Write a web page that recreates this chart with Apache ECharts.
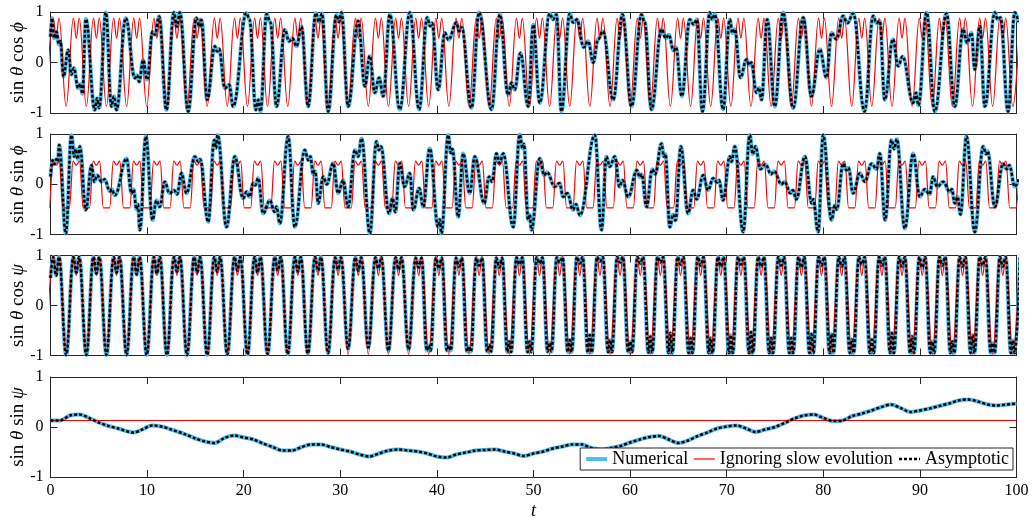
<!DOCTYPE html>
<html><head><meta charset="utf-8">
<script src="https://cdn.jsdelivr.net/npm/echarts@6/dist/echarts.min.js"></script>
<style>html,body{margin:0;padding:0;background:#fff}#c{width:1036px;height:520px}</style>
</head><body><div id="c"></div><script>
const tRange = [0, 100];
const tStep = 10;
const yTicks = [-1, 0, 1];
const legendNames = ['Numerical', 'Ignoring slow evolution', 'Asymptotic'];
const panelLabels = [['sin ', 'θ', ' cos ', 'ϕ'], ['sin ', 'θ', ' sin ', 'ϕ'], ['sin ', 'θ', ' cos ', 'ψ'], ['sin ', 'θ', ' sin ', 'ψ']];

// "Ignoring slow evolution" curves, panels 1 and 3 (shared time samples)
const redT = [-0.46,
0.28,0.58,0.88,1.62, 2.37,2.67,2.97,3.71, 4.45,4.75,5.05,5.79, 6.54,6.84,7.14,7.88,
8.62,8.92,9.22,9.96, 10.71,11.01,11.31,12.05, 12.79,13.09,13.39,14.13, 14.88,15.18,15.48,16.22,
16.96,17.26,17.56,18.30, 19.05,19.35,19.65,20.39, 21.13,21.43,21.73,22.47, 23.22,23.52,23.82,24.56,
25.30,25.60,25.90,26.64, 27.39,27.69,27.99,28.73, 29.47,29.77,30.07,30.81, 31.56,31.86,32.16,32.90,
33.64,33.94,34.24,34.98, 35.73,36.03,36.33,37.07, 37.81,38.11,38.41,39.15, 39.90,40.20,40.50,41.24,
41.98,42.28,42.58,43.32, 44.07,44.37,44.67,45.41, 46.15,46.45,46.75,47.49, 48.24,48.54,48.84,49.58,
50.32,50.62,50.92,51.66, 52.41,52.71,53.01,53.75, 54.49,54.79,55.09,55.83, 56.58,56.88,57.18,57.92,
58.66,58.96,59.26,60.00, 60.75,61.05,61.35,62.09, 62.83,63.13,63.43,64.17, 64.92,65.22,65.52,66.26,
67.00,67.30,67.60,68.34, 69.09,69.39,69.69,70.43, 71.17,71.47,71.77,72.51, 73.26,73.56,73.86,74.60,
75.34,75.64,75.94,76.68, 77.43,77.73,78.03,78.77, 79.51,79.81,80.11,80.85, 81.60,81.90,82.20,82.94,
83.68,83.98,84.28,85.02, 85.77,86.07,86.37,87.11, 87.85,88.15,88.45,89.19, 89.94,90.24,90.54,91.28,
92.02,92.32,92.62,93.36, 94.11,94.41,94.71,95.45, 96.19,96.49,96.79,97.53, 98.28,98.58,98.88,99.62,
100.36];
const red1Y = [-0.87,
.88,.48,.88,-.87, .88,.48,.88,-.87, .88,.48,.88,-.87, .88,.48,.88,-.87,
.88,.48,.88,-.87, .88,.48,.88,-.87, .88,.48,.88,-.87, .88,.48,.88,-.87,
.88,.48,.88,-.87, .88,.48,.88,-.87, .88,.48,.88,-.87, .88,.48,.88,-.87,
.88,.48,.88,-.87, .88,.48,.88,-.87, .88,.48,.88,-.87, .88,.48,.88,-.87,
.88,.48,.88,-.87, .88,.48,.88,-.87, .88,.48,.88,-.87, .88,.48,.88,-.87,
.88,.48,.88,-.87, .88,.48,.88,-.87, .88,.48,.88,-.87, .88,.48,.88,-.87,
.88,.48,.88,-.87, .88,.48,.88,-.87, .88,.48,.88,-.87, .88,.48,.88,-.87,
.88,.48,.88,-.87, .88,.48,.88,-.87, .88,.48,.88,-.87, .88,.48,.88,-.87,
.88,.48,.88,-.87, .88,.48,.88,-.87, .88,.48,.88,-.87, .88,.48,.88,-.87,
.88,.48,.88,-.87, .88,.48,.88,-.87, .88,.48,.88,-.87, .88,.48,.88,-.87,
.88,.48,.88,-.87, .88,.48,.88,-.87, .88,.48,.88,-.87, .88,.48,.88,-.87,
.88,.48,.88,-.87, .88,.48,.88,-.87, .88,.48,.88,-.87, .88,.48,.88,-.87,
.88];
const red3Y = [-0.98,
.98,.6,.98,-.98, .98,.6,.98,-.98, .98,.6,.98,-.98, .98,.6,.98,-.98,
.98,.6,.98,-.98, .98,.6,.98,-.98, .98,.6,.98,-.98, .98,.6,.98,-.98,
.98,.6,.98,-.98, .98,.6,.98,-.98, .98,.6,.98,-.98, .98,.6,.98,-.98,
.98,.6,.98,-.98, .98,.6,.98,-.98, .98,.6,.98,-.98, .98,.6,.98,-.98,
.98,.6,.98,-.98, .98,.6,.98,-.98, .98,.6,.98,-.98, .98,.6,.98,-.98,
.98,.6,.98,-.98, .98,.6,.98,-.98, .98,.6,.98,-.98, .98,.6,.98,-.98,
.98,.6,.98,-.98, .98,.6,.98,-.98, .98,.6,.98,-.98, .98,.6,.98,-.98,
.98,.6,.98,-.98, .98,.6,.98,-.98, .98,.6,.98,-.98, .98,.6,.98,-.98,
.98,.6,.98,-.98, .98,.6,.98,-.98, .98,.6,.98,-.98, .98,.6,.98,-.98,
.98,.6,.98,-.98, .98,.6,.98,-.98, .98,.6,.98,-.98, .98,.6,.98,-.98,
.98,.6,.98,-.98, .98,.6,.98,-.98, .98,.6,.98,-.98, .98,.6,.98,-.98,
.98,.6,.98,-.98, .98,.6,.98,-.98, .98,.6,.98,-.98, .98,.6,.98,-.98,
.98];

// panel 2 red curve
const red2T = [-0.79,-0.14,
0.25,0.58,0.91,1.30,1.95, 2.34,2.67,3.00,3.39,4.04, 4.42,4.75,5.08,5.47,6.12, 6.51,6.84,7.17,7.56,8.21,
8.59,8.92,9.25,9.64,10.29, 10.68,11.01,11.34,11.73,12.38, 12.76,13.09,13.42,13.81,14.46, 14.85,15.18,15.51,15.90,16.55,
16.93,17.26,17.59,17.98,18.63, 19.02,19.35,19.68,20.07,20.72, 21.10,21.43,21.76,22.15,22.80, 23.19,23.52,23.85,24.24,24.89,
25.27,25.60,25.93,26.32,26.97, 27.36,27.69,28.02,28.41,29.06, 29.44,29.77,30.10,30.49,31.14, 31.53,31.86,32.19,32.58,33.23,
33.61,33.94,34.27,34.66,35.31, 35.70,36.03,36.36,36.75,37.40, 37.78,38.11,38.44,38.83,39.48, 39.87,40.20,40.53,40.92,41.57,
41.95,42.28,42.61,43.00,43.65, 44.04,44.37,44.70,45.09,45.74, 46.12,46.45,46.78,47.17,47.82, 48.21,48.54,48.87,49.26,49.91,
50.29,50.62,50.95,51.34,51.99, 52.38,52.71,53.04,53.43,54.08, 54.46,54.79,55.12,55.51,56.16, 56.55,56.88,57.21,57.60,58.25,
58.63,58.96,59.29,59.68,60.33, 60.72,61.05,61.38,61.77,62.42, 62.80,63.13,63.46,63.85,64.50, 64.89,65.22,65.55,65.94,66.59,
66.97,67.30,67.63,68.02,68.67, 69.06,69.39,69.72,70.11,70.76, 71.14,71.47,71.80,72.19,72.84, 73.23,73.56,73.89,74.28,74.93,
75.31,75.64,75.97,76.36,77.01, 77.40,77.73,78.06,78.45,79.10, 79.48,79.81,80.14,80.53,81.18, 81.57,81.90,82.23,82.62,83.27,
83.65,83.98,84.31,84.70,85.35, 85.74,86.07,86.40,86.79,87.44, 87.82,88.15,88.48,88.87,89.52, 89.91,90.24,90.57,90.96,91.61,
91.99,92.32,92.65,93.04,93.69, 94.08,94.41,94.74,95.13,95.78, 96.16,96.49,96.82,97.21,97.86, 98.25,98.58,98.91,99.30,99.95,
100.33];
const red2Y = [-0.47,-0.47,
.46,.38,.46,-.47,-.47, .46,.38,.46,-.47,-.47, .46,.38,.46,-.47,-.47, .46,.38,.46,-.47,-.47,
.46,.38,.46,-.47,-.47, .46,.38,.46,-.47,-.47, .46,.38,.46,-.47,-.47, .46,.38,.46,-.47,-.47,
.46,.38,.46,-.47,-.47, .46,.38,.46,-.47,-.47, .46,.38,.46,-.47,-.47, .46,.38,.46,-.47,-.47,
.46,.38,.46,-.47,-.47, .46,.38,.46,-.47,-.47, .46,.38,.46,-.47,-.47, .46,.38,.46,-.47,-.47,
.46,.38,.46,-.47,-.47, .46,.38,.46,-.47,-.47, .46,.38,.46,-.47,-.47, .46,.38,.46,-.47,-.47,
.46,.38,.46,-.47,-.47, .46,.38,.46,-.47,-.47, .46,.38,.46,-.47,-.47, .46,.38,.46,-.47,-.47,
.46,.38,.46,-.47,-.47, .46,.38,.46,-.47,-.47, .46,.38,.46,-.47,-.47, .46,.38,.46,-.47,-.47,
.46,.38,.46,-.47,-.47, .46,.38,.46,-.47,-.47, .46,.38,.46,-.47,-.47, .46,.38,.46,-.47,-.47,
.46,.38,.46,-.47,-.47, .46,.38,.46,-.47,-.47, .46,.38,.46,-.47,-.47, .46,.38,.46,-.47,-.47,
.46,.38,.46,-.47,-.47, .46,.38,.46,-.47,-.47, .46,.38,.46,-.47,-.47, .46,.38,.46,-.47,-.47,
.46,.38,.46,-.47,-.47, .46,.38,.46,-.47,-.47, .46,.38,.46,-.47,-.47, .46,.38,.46,-.47,-.47,
.46,.38,.46,-.47,-.47, .46,.38,.46,-.47,-.47, .46,.38,.46,-.47,-.47, .46,.38,.46,-.47,-.47,
.46];
const red4 = [[0, 0.13], [100, 0.13]];

// Numerical (Asymptotic coincides with it at this scale)
const num1 = [[0,.51],[.14,.88],[.38,.48],[.62,.61],[.86,.36],[1.02,.42],[1.35,-.28],[1.83,.25],[2.17,-.24],[2.42,-.11],[2.86,-.51],[3.1,-.42],[3.3,-.62],[3.66,.86],[4.59,-.94],[4.83,-.71],[5.04,-.9],[5.73,.99],[6.31,-.87],[6.56,-.67],[6.83,-.94],[7.8,.88],[8.73,-.31],[8.95,-.25],[9.18,-.38],[9.59,.05],[10,-.34],[10.56,.61],[10.8,.55],[11.25,.91],[12,-.94],[12.77,.99],[13.08,.71],[13.39,.99],[14.25,-.97],[15.11,.88],[15.39,.71],[15.63,.84],[16.22,-.74],[17.01,.32],[17.25,.22],[17.45,.27],[18.05,-.51],[18.5,-.44],[18.91,-.87],[20.29,.98],[20.6,.85],[21.26,-.94],[21.5,-.74],[21.74,-.97],[22.36,.96],[22.75,.8],[23.4,-.87],[24.26,.65],[24.7,.42],[25.05,.48],[25.47,.32],[25.98,.71],[26.67,-.87],[27.47,.98],[27.8,.8],[28.1,.97],[28.74,-.97],[29.6,.94],[29.85,.8],[30.12,.99],[30.81,-.87],[31.85,.82],[32.55,-.47],[33.05,.13],[33.57,-.6],[34.02,-.3],[34.44,-.67],[35.13,.95],[36.16,-.93],[37.2,.99],[38.16,-.93],[39,.89],[39.3,.72],[39.5,.78],[40.13,-.54],[40.82,.59],[41.2,.45],[42.03,.79],[42.3,.62],[42.55,.7],[43.58,-.9],[44.37,.99],[45.65,-.93],[46.51,.95],[47.37,-.64],[47.72,-.4],[48.06,-.54],[48.65,.19],[49.45,-.87],[49.97,.75],[50.65,-.8],[51.68,.97],[52.03,.85],[52.38,.95],[52.89,-.97],[53.76,.97],[54.1,.79],[54.5,.85],[55.2,.3],[55.66,.42],[56.18,0],[56.69,.46],[57.2,.62],[58.24,-.74],[59.21,.95],[60.15,-.87],[61.18,.95],[61.5,.8],[62.21,-.93],[63.25,.66],[63.7,.48],[64,.55],[64.5,.24],[64.75,.3],[65.35,-.67],[66.18,.85],[66.6,.75],[66.9,.85],[67.49,-.97],[68.25,.99],[68.5,.85],[68.77,.95],[69.63,-.93],[70.32,.85],[70.6,.58],[70.84,.66],[71.42,-.3],[72.05,.06],[72.35,-.05],[72.55,0],[73.08,-.6],[73.35,-.5],[73.6,-.74],[74.19,.85],[74.98,-.87],[75.84,.99],[76.88,-.9],[77.92,.89],[78.77,-.67],[79.64,.26],[80.33,-.3],[80.85,.59],[81.36,.46],[82.05,.92],[82.5,.78],[83.09,.97],[84.27,-.97],[85.16,.92],[85.5,.78],[85.85,.82],[86.36,-.74],[87.21,.46],[87.75,-.07],[88.2,.12],[89.3,-.8],[89.6,-.6],[89.85,-.85],[90.69,.99],[91.55,-.97],[92.75,.97],[93.61,-.87],[94.48,.66],[94.89,.39],[95.34,.59],[95.68,-.14],[96.2,.72],[96.72,-.87],[97.76,.99],[98.05,.85],[98.34,.89],[99.13,-.97],[99.82,.99],[100.2,.8]];

const num2 = [[0,.15],[.2,.48],[.4,.4],[.6,.5],[.75,.45],[.9,.78],[1.59,-.98],[2.17,.98],[2.45,.55],[2.6,.7],[2.8,.5],[3.04,.75],[3.66,-.51],[4.24,.38],[4.55,.05],[4.83,.18],[5.28,.05],[5.6,.1],[6.14,-.14],[6.35,-.1],[6.66,-.22],[7.87,.51],[8.39,-.18],[8.6,-.1],[8.9,-.5],[9.05,-.4],[9.25,-.91],[9.87,.95],[10.56,-.71],[10.97,-.32],[11.3,-.45],[11.84,.05],[12.3,-.18],[12.8,-.12],[13.1,-.2],[13.56,.22],[14.08,-.18],[14.94,.55],[15.3,.45],[15.5,.5],[16.32,-.75],[16.95,.88],[17.12,.72],[17.3,.98],[18.22,-.85],[19.08,.55],[19.94,-.28],[20.3,-.15],[20.6,-.25],[20.98,.02],[21.2,-.02],[21.5,.12],[22.01,-.58],[22.71,-.32],[23.2,-.55],[23.4,-.45],[23.74,-.78],[24.6,.95],[25.29,-.85],[26.33,.68],[26.68,.48],[26.9,.55],[27.2,.2],[27.4,.26],[27.71,-.38],[28.23,.15],[28.6,0],[29.26,.42],[29.78,-.18],[30.29,.08],[30.81,-.45],[31.51,.68],[31.85,.55],[32.2,.91],[33.06,-.98],[33.74,.85],[34,.68],[34.2,.75],[35.05,-.58],[35.4,-.28],[35.7,-.55],[36.16,.42],[36.65,-.05],[37.2,.22],[37.55,-.51],[38.17,-.08],[38.58,-.45],[39.26,.71],[40.13,-.85],[40.3,-.7],[40.47,-.98],[41.17,.98],[41.45,.62],[41.6,.7],[42.2,-.65],[42.72,.61],[43.4,-.18],[43.92,.55],[44.9,-.38],[45.4,.15],[45.7,.05],[46.17,.61],[46.5,.42],[46.86,.61],[47.9,-.85],[48.58,.99],[48.85,.72],[49,.8],[49.45,-.71],[49.6,-.6],[49.79,-.91],[50.65,.51],[51.1,.18],[51.4,.24],[52.2,-.05],[52.7,.02],[53.07,-.25],[53.5,-.18],[54.11,-.51],[54.4,-.4],[54.8,-.62],[56.35,.98],[57.04,-.91],[57.55,.55],[57.9,.35],[58.42,.55],[58.9,-.05],[59.2,.08],[59.81,-.25],[60.7,.28],[61,.14],[61.2,.2],[61.7,-.45],[62.3,.3],[62.6,.2],[63.25,.81],[63.5,.55],[63.65,.6],[64.11,-.85],[64.45,-.6],[64.7,-.72],[65.25,.75],[66,-.58],[66.52,-.12],[66.9,-.3],[67.56,.18],[68.07,-.12],[68.59,.12],[69,.04],[69.2,.08],[69.63,-.32],[70.32,.55],[70.5,.45],[70.84,.75],[71.7,-.95],[72.39,.98],[72.7,.6],[72.97,.75],[73.5,.3],[74,.4],[74.6,.2],[74.9,.26],[75.67,0],[76,.05],[76.6,-.18],[76.85,-.12],[77.2,-.3],[78.1,.55],[78.8,-.38],[78.95,-.3],[79.47,-.95],[79.98,.98],[80.85,-.71],[81.2,-.42],[81.4,-.5],[82.05,.41],[82.4,.28],[82.6,.33],[83.09,-.18],[83.79,.22],[84.3,.05],[85,.41],[85.5,.3],[85.85,.61],[86.4,-.71],[87.06,.88],[87.35,.7],[87.6,.9],[88.44,-.88],[89.3,.61],[89.99,-.25],[90.5,-.1],[91,-.2],[91.37,.15],[91.8,-.05],[92.4,.05],[93.1,-.15],[93.3,-.1],[93.61,-.38],[93.9,-.25],[94.2,-.6],[94.82,.95],[95.68,-.95],[96.55,.75],[96.85,.6],[97,.66],[97.76,-.45],[98.61,.41],[99,.3],[99.25,.38],[99.83,-.05],[100.2,.1]];

const num3 = [[0,.55],
[0.28,.97],[0.58,.6],[0.88,.97],[1.62,-.99],[2.37,.97],[2.67,.66],[2.97,.97],[3.71,-.99],
[4.45,.97],[4.75,.64],[5.05,.97],[5.79,-.99],[6.54,.97],[6.84,.66],[7.14,.97],[7.88,-.99],
[8.62,.97],[8.92,.62],[9.22,.97],[9.96,-.99],[10.71,.97],[11.01,.64],[11.31,.97],[12.05,-.99],
[12.79,.97],[13.09,.68],[13.39,.97],[14.13,-.99],[14.88,.97],[15.18,.66],[15.48,.97],[16.22,-.99],
[16.96,.97],[17.26,.68],[17.56,.97],[18.30,-.98],[19.05,.97],[19.35,.7],[19.65,.97],[20.39,-.98],
[21.13,.97],[21.43,.66],[21.73,.97],[22.47,-.97],[23.22,.97],[23.52,.7],[23.82,.97],[24.56,-.97],
[25.30,.97],[25.60,.68],[25.90,.97],[26.64,-.96],[27.39,.97],[27.69,.7],[27.99,.97],[28.73,-.95],
[29.47,.96],[29.77,.72],[30.07,.96],[30.81,-.86],[31.56,.96],[31.86,.7],[32.16,.96],[32.90,-.84],
[33.64,.96],[33.94,.74],[34.24,.96],[34.98,-.9],[35.73,.96],[36.03,.72],[36.33,.96],[37.07,-.88],
[37.81,.95],[38.11,.76],[38.41,.95],[38.95,-.9],[39.15,-.8],[39.35,-.9],
[39.90,.95],[40.20,.74],[40.50,.95],[41.04,-.9],[41.24,-.8],[41.44,-.9],
[41.98,.95],[42.28,.78],[42.58,.95],[43.12,-.92],[43.32,-.82],[43.52,-.92],
[44.07,.95],[44.37,.8],[44.67,.95],[45.21,-.92],[45.41,-.79],[45.61,-.92],
[46.15,.95],[46.45,.76],[46.75,.95],[47.29,-.93],[47.49,-.72],[47.69,-.93],
[48.24,.96],[48.54,.82],[48.84,.96],[49.38,-.93],[49.58,-.72],[49.78,-.93],
[50.32,.96],[50.62,.84],[50.92,.96],[51.46,-.92],[51.66,-.75],[51.86,-.92],
[52.41,.96],[52.71,.86],[53.01,.96],[53.55,-.93],[53.75,-.69],[53.95,-.93],
[54.49,.97],[54.79,.84],[55.09,.97],[55.63,-.94],[55.83,-.59],[56.03,-.94],
[56.58,.97],[56.88,.88],[57.18,.97],[57.72,-.93],[57.92,-.69],[58.12,-.93],
[58.66,.97],[58.96,.86],[59.26,.97],[59.80,-.93],[60.00,-.72],[60.20,-.93],
[60.75,.97],[61.05,.84],[61.35,.97],[61.89,-.94],[62.09,-.62],[62.29,-.94],
[62.83,.97],[63.13,.86],[63.43,.97],[63.97,-.95],[64.17,-.55],[64.37,-.95],
[64.92,.97],[65.22,.82],[65.52,.97],[66.06,-.95],[66.26,-.65],[66.46,-.95],
[67.00,.97],[67.30,.8],[67.60,.97],[68.14,-.95],[68.34,-.65],[68.54,-.95],
[69.09,.97],[69.39,.78],[69.69,.97],[70.23,-.95],[70.43,-.59],[70.63,-.95],
[71.17,.97],[71.47,.82],[71.77,.97],[72.31,-.95],[72.51,-.53],[72.71,-.95],
[73.26,.97],[73.56,.78],[73.86,.97],[74.40,-.95],[74.60,-.65],[74.80,-.95],
[75.34,.97],[75.64,.8],[75.94,.97],[76.48,-.95],[76.68,-.65],[76.88,-.95],
[77.43,.97],[77.73,.76],[78.03,.97],[78.57,-.95],[78.77,-.57],[78.97,-.95],
[79.51,.97],[79.81,.8],[80.11,.97],[80.65,-.95],[80.85,-.57],[81.05,-.95],
[81.60,.97],[81.90,.78],[82.20,.97],[82.74,-.95],[82.94,-.68],[83.14,-.95],
[83.68,.97],[83.98,.82],[84.28,.97],[84.82,-.95],[85.02,-.68],[85.22,-.95],
[85.77,.97],[86.07,.8],[86.37,.97],[86.91,-.95],[87.11,-.55],[87.31,-.95],
[87.85,.97],[88.15,.78],[88.45,.97],[88.99,-.95],[89.19,-.62],[89.39,-.95],
[89.94,.97],[90.24,.76],[90.54,.97],[91.08,-.95],[91.28,-.72],[91.48,-.95],
[92.02,.97],[92.32,.8],[92.62,.97],[93.16,-.95],[93.36,-.72],[93.56,-.95],
[94.11,.97],[94.41,.78],[94.71,.97],[95.25,-.95],[95.45,-.59],[95.65,-.95],
[96.19,.97],[96.49,.8],[96.79,.97],[97.33,-.95],[97.53,-.75],[97.73,-.95],
[98.28,.97],[98.58,.78],[98.88,.97],[99.42,-.95],[99.62,-.7],[99.82,-.95],
[100.36,.97]];

const num4 = [[0,.13],[1,.13],[2,.23],[3,.25],[4,.18],[5,.09],[6,.02],[7,-.03],[8,-.09],[8.6,-.11],[9.5,-.05],[10.5,.03],[11.5,.01],[12.5,-.05],[14,-.15],[15,-.23],[16,-.29],[17,-.32],[18,-.22],[19,-.17],[20,-.21],[21,-.25],[22,-.33],[23,-.4],[24,-.47],[25,-.47],[26,-.4],[27,-.35],[28,-.35],[29,-.4],[30,-.45],[31,-.49],[32,-.55],[33,-.59],[34,-.53],[35,-.47],[36,-.45],[37,-.47],[38,-.49],[39,-.53],[40,-.59],[41,-.61],[42,-.55],[43,-.51],[44,-.47],[45,-.46],[46,-.45],[47,-.49],[48,-.53],[49,-.58],[50,-.53],[51,-.49],[52,-.43],[53,-.39],[54,-.35],[55,-.35],[56,-.42],[57,-.45],[58,-.42],[59,-.38],[60,-.31],[61,-.25],[62,-.2],[63,-.18],[64,-.25],[65,-.32],[66,-.27],[67,-.18],[68,-.11],[69,-.03],[70,.01],[71,.03],[72,-.03],[73,-.1],[74,-.05],[75,0],[76,.08],[77,.17],[78,.23],[79,.25],[80,.18],[81,.12],[82,.13],[83,.22],[84,.27],[85,.33],[86,.4],[87,.45],[88,.38],[89,.3],[90,.33],[91,.37],[92,.42],[93,.47],[94,.53],[95,.55],[96,.51],[97,.45],[98,.43],[99,.45],[100,.47]];
const asy1 = num1, asy2 = num2, asy3 = num3, asy4 = num4;

const red1 = redT.map((t, i) => [t, red1Y[i]]);
const red3 = redT.map((t, i) => [t, red3Y[i]]);
const red2 = red2T.map((t, i) => [t, red2Y[i]]);

const NUMS = [num1, num2, num3, num4];
const REDS = [red1, red2, red3, red4];
const ASYS = [asy1, asy2, asy3, asy4];

const FONT = '"Liberation Serif", "Times New Roman", serif';
const AX = '#262626';
const CLEAR = 'rgba(0,0,0,0)';
const tops = [12, 134, 255.5, 377];
const heights = [101, 100.5, 100, 100];
const grids = [], xAxes = [], yAxes = [], series = [];
for (let i = 0; i < 4; i++) {
  grids.push({left: 50.5, width: 966, top: tops[i], height: heights[i], containLabel: false, outerBoundsMode: 'none'});
  const common = {gridIndex: i, type: 'value', min: tRange[0], max: tRange[1], interval: tStep,
    splitLine: {show: false}, axisLine: {show: true, onZero: false, lineStyle: {color: AX, width: 1}},
    axisTick: {show: true, inside: true, length: 7, lineStyle: {color: AX}}};
  xAxes.push(Object.assign({}, common, {position: 'bottom',
    axisLabel: {show: i === 3, color: '#000', fontFamily: FONT, fontSize: 16, margin: 6},
    name: i === 3 ? 't' : '', nameLocation: 'middle', nameGap: 25, nameMoveOverlap: false,
    nameTextStyle: {fontFamily: FONT, fontStyle: 'italic', fontSize: 18, color: '#000'}}));
  xAxes.push(Object.assign({}, common, {position: 'top', axisLabel: {show: false}}));
  const yc = {gridIndex: i, type: 'value', min: yTicks[0], max: yTicks[2], interval: 1,
    splitLine: {show: false}, axisLine: {show: true, onZero: false, lineStyle: {color: AX, width: 1}},
    axisTick: {show: true, inside: true, length: 7, lineStyle: {color: AX}}};
  const L = panelLabels[i];
  yAxes.push(Object.assign({}, yc, {position: 'left',
    axisLabel: {color: '#000', fontFamily: FONT, fontSize: 16, margin: 7, formatter: v => String(v)},
    name: '{r|' + L[0] + '}{i|' + L[1] + '}{r|' + L[2] + '}{i|' + L[3] + '}',
    nameLocation: 'middle', nameRotate: 90, nameGap: 23, nameMoveOverlap: false,
    nameTextStyle: {color: '#000', fontFamily: FONT, fontSize: 19, rich: {r: {fontFamily: FONT, fontSize: 19, color: '#000'}, i: {fontFamily: FONT, fontStyle: 'italic', fontSize: 19, color: '#000'}}}}));
  yAxes.push(Object.assign({}, yc, {position: 'right', axisLabel: {show: false}}));
  const sm = i === 3 ? {smooth: 0.3} : {smooth: 0.4, smoothMonotone: 'x'};
  series.push(Object.assign({name: legendNames[0], type: 'line', xAxisIndex: 2 * i, yAxisIndex: 2 * i, data: NUMS[i],
    symbol: 'none', lineStyle: {color: '#4DBEEE', width: 4}, itemStyle: {color: CLEAR}, z: 2}, sm));
  series.push(Object.assign({name: legendNames[1], type: 'line', xAxisIndex: 2 * i, yAxisIndex: 2 * i, data: REDS[i],
    symbol: 'none', lineStyle: {color: '#FF0000', width: 1.2}, itemStyle: {color: CLEAR}, z: 3},
    i === 3 ? {} : {smooth: 0.4, smoothMonotone: 'x'}));
  series.push(Object.assign({name: legendNames[2], type: 'line', xAxisIndex: 2 * i, yAxisIndex: 2 * i, data: ASYS[i],
    symbol: 'none', lineStyle: {color: '#000', width: 2.5, type: [3, 2]}, itemStyle: {color: CLEAR}, z: 4}, sm));
}

const chart = echarts.init(document.getElementById('c'), null, {renderer: 'canvas'});
chart.setOption({
  animation: false,
  backgroundColor: '#fff',
  grid: grids, xAxis: xAxes, yAxis: yAxes, series: series,
  legend: {data: legendNames, right: 23, top: 448, orient: 'horizontal', itemWidth: 21, itemHeight: 10, itemGap: 5,
    padding: [2, 4], backgroundColor: '#fff', borderColor: AX, borderWidth: 1, borderRadius: 0, z: 10,
    itemStyle: {color: CLEAR, borderWidth: 0},
    lineStyle: {width: 'inherit', type: 'inherit', color: 'inherit'},
    textStyle: {fontFamily: FONT, fontSize: 18, color: '#000'}}
});
</script></body></html>
